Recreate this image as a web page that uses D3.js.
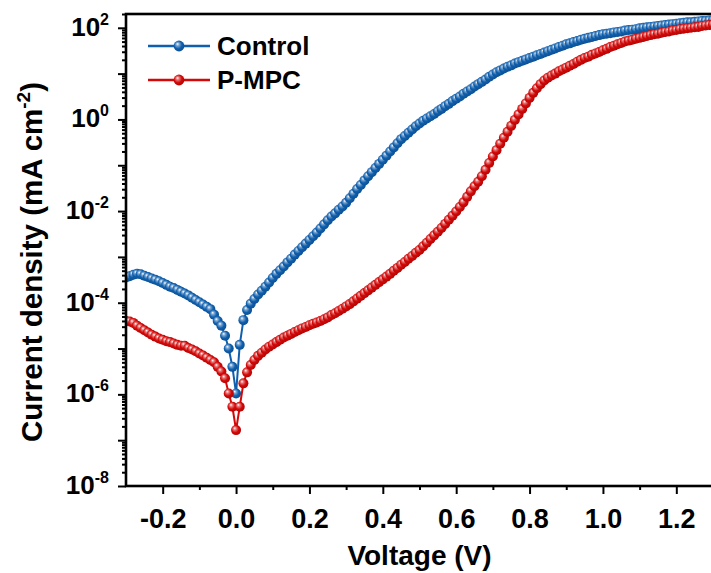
<!DOCTYPE html>
<html><head><meta charset="utf-8">
<script src="https://cdn.jsdelivr.net/npm/d3@7"></script>
<style>
body{margin:0;background:#fff;}
svg{display:block;font-family:"Liberation Sans",Arial,Helvetica,sans-serif;font-weight:bold;}
</style>
</head><body>
<svg id="chart" width="711" height="573"></svg>
<script>
// ---- data (log10 of current density, mA cm^-2) ----
const voltage = [
-0.30,-0.29,-0.28,-0.27,-0.26,-0.25,-0.24,-0.23,-0.22,-0.21,
-0.20,-0.19,-0.18,-0.17,-0.16,-0.15,-0.14,-0.13,-0.12,-0.11,
-0.10,-0.09,-0.08,-0.07,-0.06,-0.05,-0.04,-0.03,-0.02,-0.01,
0.00,0.01,0.02,0.03,0.04,0.05,0.06,0.07,0.08,0.09,
0.10,0.11,0.12,0.13,0.14,0.15,0.16,0.17,0.18,0.19,
0.20,0.21,0.22,0.23,0.24,0.25,0.26,0.27,0.28,0.29,
0.30,0.31,0.32,0.33,0.34,0.35,0.36,0.37,0.38,0.39,
0.40,0.41,0.42,0.43,0.44,0.45,0.46,0.47,0.48,0.49,
0.50,0.51,0.52,0.53,0.54,0.55,0.56,0.57,0.58,0.59,
0.60,0.61,0.62,0.63,0.64,0.65,0.66,0.67,0.68,0.69,
0.70,0.71,0.72,0.73,0.74,0.75,0.76,0.77,0.78,0.79,
0.80,0.81,0.82,0.83,0.84,0.85,0.86,0.87,0.88,0.89,
0.90,0.91,0.92,0.93,0.94,0.95,0.96,0.97,0.98,0.99,
1.00,1.01,1.02,1.03,1.04,1.05,1.06,1.07,1.08,1.09,
1.10,1.11,1.12,1.13,1.14,1.15,1.16,1.17,1.18,1.19,
1.20,1.21,1.22,1.23,1.24,1.25,1.26,1.27,1.28,1.29,
1.30];

const controlLog = [
-3.45,-3.42,-3.39,-3.37,-3.38,-3.41,-3.44,-3.47,-3.50,-3.53,
-3.57,-3.61,-3.65,-3.68,-3.72,-3.76,-3.80,-3.84,-3.89,-3.94,
-3.99,-4.04,-4.09,-4.14,-4.26,-4.40,-4.50,-4.72,-5.00,-5.40,
-5.98,-4.92,-4.38,-4.16,-4.02,-3.92,-3.82,-3.74,-3.65,-3.56,
-3.46,-3.37,-3.29,-3.21,-3.12,-3.04,-2.95,-2.87,-2.79,-2.71,
-2.63,-2.55,-2.47,-2.38,-2.29,-2.20,-2.12,-2.05,-1.97,-1.90,
-1.82,-1.72,-1.62,-1.52,-1.43,-1.33,-1.24,-1.15,-1.06,-0.97,
-0.88,-0.79,-0.70,-0.61,-0.52,-0.43,-0.36,-0.29,-0.22,-0.15,
-0.09,-0.03,0.02,0.07,0.12,0.18,0.23,0.29,0.34,0.40,
0.45,0.50,0.56,0.61,0.66,0.72,0.77,0.82,0.87,0.93,
0.98,1.03,1.07,1.11,1.15,1.18,1.22,1.25,1.28,1.31,
1.34,1.37,1.40,1.43,1.46,1.49,1.52,1.55,1.58,1.61,
1.64,1.66,1.69,1.71,1.74,1.76,1.78,1.80,1.82,1.84,
1.86,1.87,1.88,1.90,1.91,1.92,1.94,1.95,1.96,1.97,
1.99,2.00,2.01,2.02,2.03,2.04,2.05,2.06,2.07,2.08,
2.09,2.10,2.11,2.12,2.12,2.13,2.14,2.15,2.15,2.16,
2.17];

const pmpcLog = [
-4.40,-4.41,-4.44,-4.50,-4.55,-4.60,-4.65,-4.70,-4.74,-4.78,
-4.81,-4.84,-4.86,-4.89,-4.92,-4.94,-4.94,-4.99,-5.02,-5.06,
-5.11,-5.15,-5.20,-5.25,-5.30,-5.40,-5.50,-5.65,-5.98,-6.27,
-6.78,-6.27,-5.76,-5.52,-5.36,-5.25,-5.16,-5.09,-5.02,-4.96,
-4.91,-4.86,-4.81,-4.76,-4.72,-4.68,-4.64,-4.60,-4.56,-4.53,
-4.49,-4.46,-4.43,-4.40,-4.36,-4.32,-4.27,-4.23,-4.18,-4.13,
-4.08,-4.03,-3.97,-3.91,-3.85,-3.79,-3.73,-3.67,-3.61,-3.55,
-3.49,-3.43,-3.37,-3.30,-3.24,-3.17,-3.11,-3.04,-2.98,-2.91,
-2.85,-2.77,-2.69,-2.61,-2.53,-2.45,-2.37,-2.28,-2.19,-2.10,
-2.01,-1.91,-1.81,-1.69,-1.57,-1.46,-1.36,-1.24,-1.10,-0.95,
-0.81,-0.67,-0.53,-0.40,-0.27,-0.14,-0.01,0.11,0.23,0.35,
0.47,0.58,0.68,0.77,0.85,0.91,0.96,1.00,1.05,1.09,
1.13,1.17,1.21,1.26,1.30,1.34,1.37,1.41,1.44,1.47,
1.51,1.54,1.58,1.61,1.64,1.67,1.70,1.72,1.74,1.76,
1.78,1.80,1.82,1.84,1.86,1.87,1.89,1.91,1.92,1.94,
1.95,1.97,1.98,1.99,2.00,2.01,2.02,2.04,2.05,2.06,
2.07];

const seriesNames = ["Control", "P-MPC"];
const seriesColors = ["#0f5fae", "#d40808"];
const xTickValues = [-0.2, 0.0, 0.2, 0.4, 0.6, 0.8, 1.0, 1.2];
const xTickLabels = ["-0.2", "0.0", "0.2", "0.4", "0.6", "0.8", "1.0", "1.2"];
const xMinorValues = [-0.1, 0.1, 0.3, 0.5, 0.7, 0.9, 1.1, 1.3];
const yLabelExponents = [2, 0, -2, -4, -6, -8];
const yDecadeExponents = [2, 1, 0, -1, -2, -3, -4, -5, -6, -7, -8];
const xTitle = "Voltage (V)";

// ---- layout ----
const L = 126, R = 713, T = 14, B = 486;
const svg = d3.select("#chart");
const x = d3.scaleLinear().domain([-0.3, 1.3]).range([L, R]);
const y = d3.scaleLog().domain([1e-8, 200]).range([B, T]);

// gradients for shiny markers
const defs = svg.append("defs");
seriesColors.forEach((c, i) => {
  const g = defs.append("radialGradient").attr("id", "grad" + i)
    .attr("cx", "0.45").attr("cy", "0.45").attr("r", "0.6")
    .attr("fx", "0.35").attr("fy", "0.3");
  g.append("stop").attr("offset", "0%").attr("stop-color", "#ffffff");
  g.append("stop").attr("offset", "25%").attr("stop-color", d3.interpolateRgb(c, "#fff")(0.45));
  g.append("stop").attr("offset", "60%").attr("stop-color", c);
  g.append("stop").attr("offset", "100%").attr("stop-color", d3.color(c).darker(0.6));
});
defs.append("clipPath").attr("id", "plotclip").append("rect")
  .attr("x", L).attr("y", T).attr("width", R - L).attr("height", B - T);

// ---- series ----
const series = [controlLog, pmpcLog].map((vals, i) => ({
  name: seriesNames[i], color: seriesColors[i],
  pts: voltage.map((v, j) => ({ v: v, j: Math.pow(10, vals[j]) }))
}));

const plot = svg.append("g").attr("clip-path", "url(#plotclip)");
const line = d3.line().x(d => x(d.v)).y(d => y(d.j));
series.forEach((s, i) => {
  const g = plot.append("g");
  g.append("path").datum(s.pts).attr("d", line)
    .attr("fill", "none").attr("stroke", s.color).attr("stroke-width", 2);
  g.selectAll("circle").data(s.pts).enter().append("circle")
    .attr("cx", d => x(d.v)).attr("cy", d => y(d.j)).attr("r", 5.0)
    .attr("fill", "url(#grad" + i + ")");
});

// ---- axes ----
const xAxis = svg.append("g").attr("transform", `translate(0,${B})`)
  .call(d3.axisBottom(x).tickValues(xTickValues).tickSize(8).tickSizeOuter(0)
    .tickFormat((d, i) => xTickLabels[i]));
svg.append("g").attr("transform", `translate(0,${B})`)
  .call(d3.axisBottom(x).tickValues(xMinorValues).tickSize(4).tickSizeOuter(0).tickFormat(""));
const yMinor = [];
yDecadeExponents.forEach(e => { for (let m = 2; m <= 9; m++) { const v = m * Math.pow(10, e); if (v <= 200) yMinor.push(v); } });
svg.append("g").attr("transform", `translate(${L},0)`)
  .call(d3.axisLeft(y).tickValues(yDecadeExponents.map(e => Math.pow(10, e))).tickSize(8).tickSizeOuter(0).tickFormat(""));
svg.append("g").attr("transform", `translate(${L},0)`)
  .call(d3.axisLeft(y).tickValues(yMinor).tickSize(4).tickSizeOuter(0).tickFormat(""));

svg.selectAll(".domain").remove();
svg.selectAll(".tick line").attr("stroke", "#000").attr("stroke-width", 2);
xAxis.selectAll(".tick text").attr("font-size", 27).attr("font-family", "Liberation Sans, Arial, sans-serif")
  .attr("font-weight", "bold").attr("fill", "#000").attr("dy", 0).attr("y", 42);

// y labels with superscripts
yLabelExponents.forEach(e => {
  const t = svg.append("text").attr("x", L - 17).attr("y", y(Math.pow(10, e)) + 8)
    .attr("text-anchor", "end").attr("font-size", 26).attr("fill", "#000");
  t.append("tspan").text("10");
  t.append("tspan").attr("font-size", 16).attr("dy", -11).text(String(e));
});

// frame
svg.append("rect").attr("x", L).attr("y", T).attr("width", R - L).attr("height", B - T)
  .attr("fill", "none").attr("stroke", "#000").attr("stroke-width", 2.6);

// axis titles
svg.append("text").attr("x", (L + R) / 2).attr("y", 565).attr("text-anchor", "middle")
  .attr("font-size", 28).attr("fill", "#000").text(xTitle);
const yt = svg.append("text").attr("transform", `translate(42,262) rotate(-90)`)
  .attr("text-anchor", "middle").attr("font-size", 29.5).attr("fill", "#000");
yt.append("tspan").text("Current density (mA cm");
yt.append("tspan").attr("font-size", 19).attr("dy", -12).text("-2");
yt.append("tspan").attr("dy", 12).text(")");

// legend
series.forEach((s, i) => {
  const ly = 46 + i * 34;
  const g = svg.append("g");
  g.append("line").attr("x1", 148).attr("x2", 210).attr("y1", ly).attr("y2", ly)
    .attr("stroke", s.color).attr("stroke-width", 2.6);
  g.append("circle").attr("cx", 179).attr("cy", ly).attr("r", 5.4).attr("fill", "url(#grad" + i + ")");
  g.append("text").attr("x", 217).attr("y", ly + 9).attr("font-size", 26).attr("fill", "#000").text(s.name);
});
</script>
</body></html>
